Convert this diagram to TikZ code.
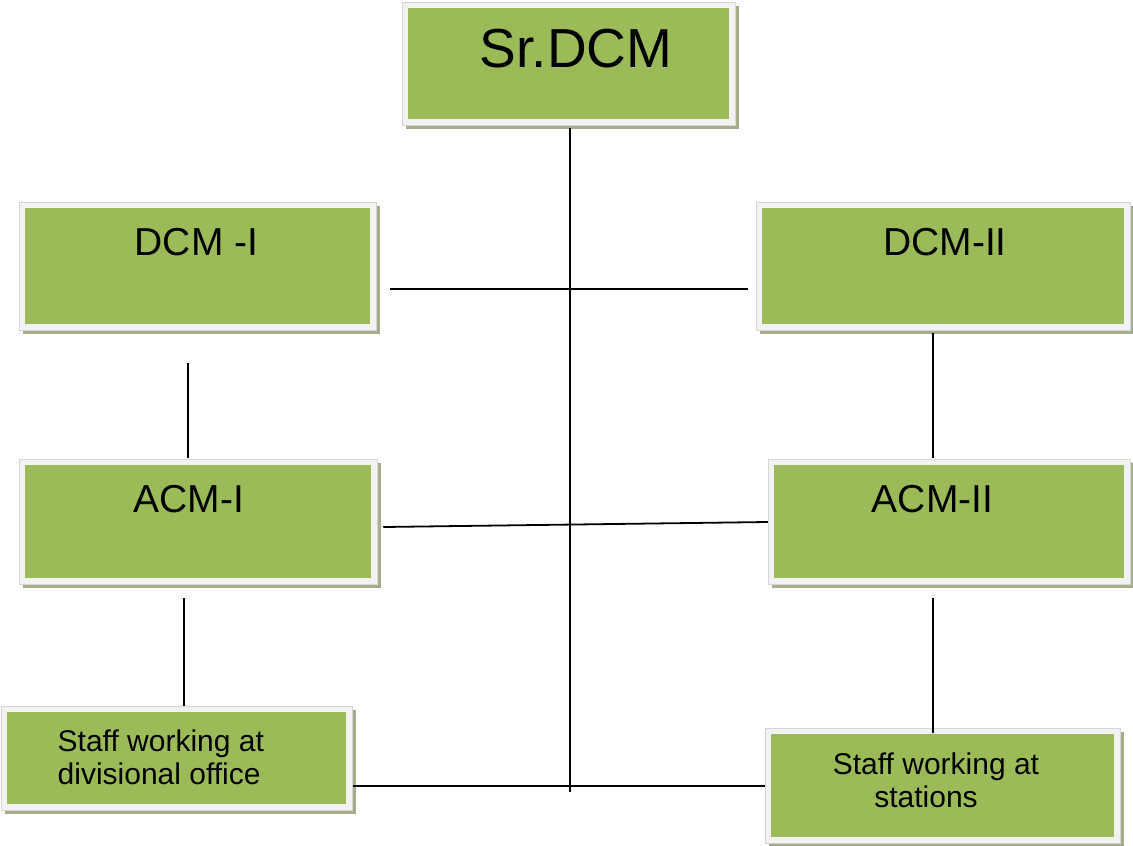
\documentclass[tikz,border=0pt]{standalone}
\usepackage{fontspec}
\setmainfont{Liberation Sans}
\usepackage{tikz}
\usetikzlibrary{positioning, shadows}

\definecolor{boxgreen}{HTML}{9BBB59}
\definecolor{framefill}{HTML}{F2F2F2}
\definecolor{frameline}{HTML}{D6D6D6}
\definecolor{shadowgreen}{RGB}{164,174,140}

\begin{document}
\begin{tikzpicture}[
    x=1pt, y=-1pt,
    post/.style = {draw=frameline, line width=0.5pt, fill=framefill,
                   rectangle, inner sep=0pt,
                   drop shadow={shadow xshift=4pt, shadow yshift=-4pt,
                                fill=shadowgreen, opacity=1},
                   path picture={\fill[boxgreen]
                       ([shift={(6pt,-6pt)}]path picture bounding box.north west)
                       rectangle
                       ([shift={(-6pt,6pt)}]path picture bounding box.south east);}},
    title/.style = {inner sep=0pt, anchor=base},
    link/.style = {draw=black, line width=1.8pt}
]
\useasboundingbox (0,0) rectangle (1133,846);

% boxes
\node[post, minimum width=333pt, minimum height=123pt] (srdcm) at (568.5,63.5) {};
\node[post, minimum width=357pt, minimum height=128pt] (dcmi)  at (197.5,266) {};
\node[post, minimum width=374pt, minimum height=128pt] (dcmii) at (943,266) {};
\node[post, minimum width=358pt, minimum height=125pt] (acmi)  at (198,521.5) {};
\node[post, minimum width=362pt, minimum height=125pt] (acmii) at (949,521.5) {};
\node[post, minimum width=351pt, minimum height=104pt] (stdiv) at (176.5,758) {};
\node[post, minimum width=355pt, minimum height=115pt] (stst)  at (942.5,785.5) {};

% texts
\node[title, font=\fontsize{55}{60}\selectfont] (srdcmtxt) at ([shift={(7.5pt,-3.5pt)}]srdcm.center) {Sr.DCM};
\node[title, font=\fontsize{39}{44}\selectfont] (dcmitxt) at ([shift={(-1pt,11pt)}]dcmi.center) {DCM -I};
\node[title, font=\fontsize{39}{44}\selectfont] (dcmiitxt) at ([shift={(2pt,11pt)}]dcmii.center) {DCM-II};
\node[title, font=\fontsize{39}{44}\selectfont] (acmitxt) at ([shift={(-9pt,9.5pt)}]acmi.center) {ACM-I};
\node[title, font=\fontsize{39}{44}\selectfont] (acmiitxt) at ([shift={(-16.5pt,9.5pt)}]acmii.center) {ACM-II};
\node[inner sep=0pt, anchor=north west, align=left, font=\fontsize{30}{33}\selectfont]
    (stdivtxt) at ([shift={(-119pt,28.5pt)}]stdiv.center) {Staff working at\\divisional office};
\node[inner sep=0pt, anchor=north, align=center, font=\fontsize{30}{33}\selectfont]
    (ststtxt) at ([shift={(-6.5pt,33pt)}]stst.center) {Staff working at\\stations\hspace*{20pt}};

% connectors
\coordinate (trunk) at (570,792);
\draw[link, shorten <=3pt] (srdcm.south -| trunk) -- (trunk);
\draw[link, shorten <=14pt, shorten >=8pt] ([yshift=-23pt]dcmi.east) -- ([yshift=-23pt]dcmi.east -| dcmii.west);
\draw[link] ([shift={(6pt,-5.5pt)}]acmi.east) -- ([yshift=-0.5pt]acmii.west);
\draw[link, shorten <=33pt, shorten >=1pt] ([xshift=-9.5pt]dcmi.south) -- ([xshift=-9.5pt]dcmi.south |- acmi.north);
\draw[link, shorten <=3pt, shorten >=1pt] ([xshift=-10pt]dcmii.south) -- ([xshift=-10pt]dcmii.south |- acmii.north);
\draw[link, shorten <=14pt] ([xshift=-14pt]acmi.south) -- ([xshift=-14pt]acmi.south |- stdiv.north);
\draw[link, shorten <=14pt, shorten >=-5pt] ([xshift=-16pt]acmii.south) -- ([xshift=-16pt]acmii.south |- stst.north);
\draw[link, shorten <=1pt] ([yshift=-28pt]stdiv.east) -- ([yshift=-28pt]stdiv.east -| stst.west);

\end{tikzpicture}
\end{document}
